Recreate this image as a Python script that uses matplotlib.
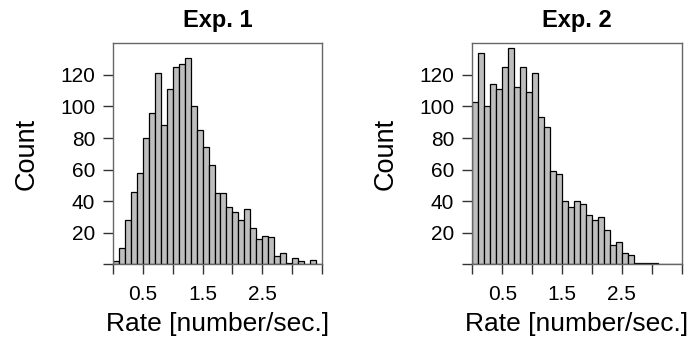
import numpy as np
import matplotlib
matplotlib.use("Agg")
import matplotlib.pyplot as plt

plt.rcParams["font.family"] = ["Liberation Sans", "DejaVu Sans"]

# histogram bins: 0.1 wide, 0 .. 3.5
bin_edges = np.round(np.arange(0, 3.51, 0.1), 2)

exp1_counts = [2, 10, 28, 46, 58, 80, 96, 121, 88, 111,
               125, 127, 131, 100, 85, 74, 63, 45, 45, 36,
               33, 28, 35, 23, 16, 18, 17, 5, 7, 1,
               4, 2, 0, 3, 0]
exp2_counts = [103, 134, 100, 114, 111, 125, 137, 112, 125, 109,
               121, 93, 87, 59, 57, 40, 36, 40, 38, 31,
               28, 30, 22, 12, 14, 7, 6, 1, 1, 1,
               1, 0, 0, 0, 0]

titles = ["Exp. 1", "Exp. 2"]
xtick_vals = np.arange(0, 3.51, 0.5)
xtick_labels = ["", "0.5", "", "1.5", "", "2.5", "", ""]
ytick_vals = [0, 20, 40, 60, 80, 100, 120]
ytick_labels = ["", "20", "40", "60", "80", "100", "120"]

fig = plt.figure(figsize=(6.9, 3.5), dpi=100)
axes_pos = [[0.1642, 0.2449, 0.3020, 0.6314],
            [0.6845, 0.2449, 0.3035, 0.6314]]

for pos, counts, title in zip(axes_pos, [exp1_counts, exp2_counts], titles):
    ax = fig.add_axes(pos)
    ax.hist(bin_edges[:-1] + 0.05, bins=bin_edges, weights=counts,
            color="#bebebe", edgecolor="black", linewidth=0.9)
    ax.set_xlim(0, 3.5)
    ax.set_ylim(0, 140)
    ax.set_xticks(xtick_vals)
    ax.set_xticklabels(xtick_labels)
    ax.set_yticks(ytick_vals)
    ax.set_yticklabels(ytick_labels)
    ax.tick_params(axis="both", direction="out", length=7, width=1,
                   color="#333333", labelsize=15)
    ax.tick_params(axis="x", pad=8)
    ax.tick_params(axis="y", pad=6)
    for sp in ax.spines.values():
        sp.set_color("#666666")
        sp.set_linewidth(1)
    ax.set_xlabel("Rate [number/sec.]", fontsize=19, labelpad=6)
    ax.set_ylabel("Count", fontsize=19.5, labelpad=15)
    ax.set_title(title, fontsize=17, fontweight="bold", pad=12)

fig.savefig("out.png", dpi=100)
